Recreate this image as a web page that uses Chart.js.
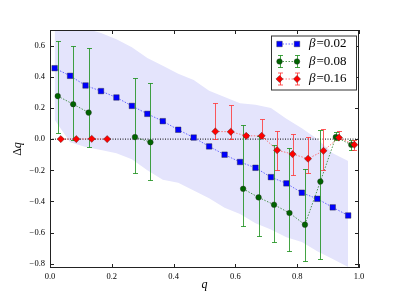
<!DOCTYPE html>
<html>
<head>
<meta charset="utf-8">
<script src="https://cdn.jsdelivr.net/npm/chart.js@4"></script>
<style>
  html, body { margin: 0; padding: 0; background: #fff; }
  #wrap { width: 399px; height: 299px; }
</style>
</head>
<body>
<div id="wrap"><canvas id="chart"></canvas></div>
<script>
// values
const betas = [0.02, 0.08, 0.16];

const qBlue = [0.015, 0.065, 0.115, 0.165, 0.215, 0.265, 0.315, 0.365, 0.415, 0.465,
               0.515, 0.565, 0.615, 0.665, 0.715, 0.765, 0.815, 0.865, 0.915, 0.965];
const blueVals = [0.455, 0.406, 0.344, 0.308, 0.267, 0.213, 0.162, 0.115, 0.060, 0.010,
                  -0.047, -0.100, -0.147, -0.184, -0.244, -0.284, -0.344, -0.383, -0.438, -0.490];
const bandLow = [0.124, -0.020, -0.050, -0.070, -0.090, -0.130, -0.200, -0.260, -0.280, -0.330,
                 -0.380, -0.440, -0.480, -0.540, -0.580, -0.630, -0.660, -0.720, -0.770, -0.820];
const bandHigh = [0.780, 0.740, 0.710, 0.680, 0.640, 0.590, 0.520, 0.470, 0.420, 0.380,
                  0.310, 0.270, 0.230, 0.220, 0.200, 0.130, 0.070, 0.000, -0.090, -0.140];

const qGreen = [0.025, 0.075, 0.125, 0.175, 0.225, 0.275, 0.325, 0.375, 0.425, 0.475,
                0.525, 0.575, 0.625, 0.675, 0.725, 0.775, 0.825, 0.875, 0.925, 0.975];
const greenVals = [0.276, 0.224, 0.170, null, null, 0.013, -0.020, null, null, null,
                   null, null, -0.319, -0.374, -0.421, -0.474, -0.549, -0.272, 0.013, -0.036];
const greenLow = [0.040, -0.005, -0.050, null, null, -0.218, -0.261, null, null, null,
                  null, null, -0.558, -0.622, -0.658, -0.716, -0.780, -0.767, -0.005, -0.068];
const greenHigh = [0.630, 0.600, 0.587, null, null, 0.389, 0.359, null, null, null,
                   null, null, 0.090, 0.017, -0.040, -0.060, -0.192, 0.060, 0.045, -0.005];

const qRed = [0.035, 0.085, 0.135, 0.185, 0.235, 0.285, 0.335, 0.385, 0.435, 0.485,
              0.535, 0.585, 0.635, 0.685, 0.735, 0.785, 0.835, 0.885, 0.935, 0.985];
const redVals = [0.000, 0.000, 0.002, 0.000, null, null, null, null, null, null,
                 0.049, 0.047, 0.021, 0.021, -0.071, -0.096, -0.126, -0.075, 0.010, -0.036];
const redLow = [0.000, 0.000, 0.000, 0.000, null, null, null, null, null, null,
                0.000, 0.000, 0.012, 0.010, -0.200, -0.229, -0.215, -0.197, 0.000, -0.068];
const redHigh = [0.000, 0.000, 0.004, 0.000, null, null, null, null, null, null,
                 0.230, 0.220, 0.030, 0.128, 0.050, 0.032, 0.013, 0.062, 0.050, -0.005];

const xTicks = [0.0, 0.2, 0.4, 0.6, 0.8, 1.0];
const yTicks = [-0.8, -0.6, -0.4, -0.2, 0.0, 0.2, 0.4, 0.6];

const SERIF = '"Liberation Serif", "DejaVu Serif", serif';

const toXY = (qs, vals) => qs.map((q, i) => ({ x: q, y: vals[i] }));
const fmtTick = v => (v < 0 ? '\u2212' : '') + Math.abs(v).toFixed(1);

// vertical error bars, drawn just before their own series
const errorBars = {
    id: 'errorBars',
    beforeDatasetDraw(chart, args) {
        const ds = chart.data.datasets[args.index];
        if (!ds.errLow) return;
        const { ctx, chartArea } = chart;
        const xs = chart.scales.x, ys = chart.scales.y;
        ctx.save();
        ctx.beginPath();
        ctx.rect(chartArea.left, chartArea.top, chartArea.width, chartArea.height);
        ctx.clip();
        ctx.strokeStyle = ds.errColor;
        ctx.lineWidth = 1;
        ds.data.forEach((p, i) => {
            if (p.y === null) return;
            const x = Math.round(xs.getPixelForValue(p.x)) + 0.5;
            const y0 = Math.round(ys.getPixelForValue(ds.errLow[i])) + 0.5;
            const y1 = Math.round(ys.getPixelForValue(ds.errHigh[i])) + 0.5;
            ctx.beginPath();
            ctx.moveTo(x, y0); ctx.lineTo(x, y1);
            ctx.moveTo(x - 2.5, y0); ctx.lineTo(x + 2.5, y0);
            ctx.moveTo(x - 2.5, y1); ctx.lineTo(x + 2.5, y1);
            ctx.stroke();
        });
        ctx.restore();
    }
};

// frame, inward ticks, y title and legend
const decorations = {
    id: 'decorations',
    afterDraw(chart) {
        const { ctx, chartArea: a } = chart;
        const xs = chart.scales.x, ys = chart.scales.y;
        ctx.save();
        ctx.strokeStyle = '#222';
        ctx.lineWidth = 1;
        ctx.strokeRect(a.left + 0.5, a.top + 0.5, a.width - 1, a.height - 1);
        ctx.beginPath();
        xs.ticks.forEach(t => {
            const x = Math.round(xs.getPixelForValue(t.value)) + 0.5;
            ctx.moveTo(x, a.bottom); ctx.lineTo(x, a.bottom - 4);
            ctx.moveTo(x, a.top); ctx.lineTo(x, a.top + 4);
        });
        ys.ticks.forEach(t => {
            const y = Math.round(ys.getPixelForValue(t.value)) + 0.5;
            ctx.moveTo(a.left, y); ctx.lineTo(a.left + 4, y);
            ctx.moveTo(a.right, y); ctx.lineTo(a.right - 4, y);
        });
        ctx.stroke();

        // y title "Δq"
        ctx.save();
        ctx.translate(18, (a.top + a.bottom) / 2);
        ctx.rotate(-Math.PI / 2);
        ctx.fillStyle = '#000';
        ctx.textBaseline = 'middle';
        ctx.font = '12px ' + SERIF;
        const w1 = ctx.measureText('\u0394').width;
        ctx.font = 'italic 12px ' + SERIF;
        const w2 = ctx.measureText('q').width;
        ctx.font = '12px ' + SERIF;
        ctx.fillText('\u0394', -(w1 + w2) / 2, 0);
        ctx.font = 'italic 12px ' + SERIF;
        ctx.fillText('q', -(w1 + w2) / 2 + w1, 0);
        ctx.restore();

        // legend
        const lx = a.right - 88, ly = a.top + 5.5, lw = 85, lh = 54;
        ctx.fillStyle = '#fff';
        ctx.fillRect(lx, ly, lw, lh);
        ctx.strokeStyle = '#333';
        ctx.strokeRect(lx + 0.5, ly + 0.5, lw, lh);
        const series = chart.data.datasets.filter(d => d.legendRow !== undefined);
        series.forEach(ds => {
            const y = ly + 8.5 + ds.legendRow * 17.5;
            const m1 = lx + 8.5, m2 = lx + 26;
            ctx.save();
            ctx.strokeStyle = ds.borderColor;
            ctx.setLineDash([1.5, 1.5]);
            ctx.beginPath(); ctx.moveTo(m1, y); ctx.lineTo(m2, y); ctx.stroke();
            ctx.restore();
            [m1, m2].forEach(mx => {
                if (ds.errColor) {
                    ctx.strokeStyle = ds.errColor;
                    const bx = Math.round(mx) + 0.5;
                    ctx.beginPath();
                    ctx.moveTo(bx, y - 6); ctx.lineTo(bx, y + 6);
                    ctx.moveTo(bx - 2.5, y - 6); ctx.lineTo(bx + 2.5, y - 6);
                    ctx.moveTo(bx - 2.5, y + 6); ctx.lineTo(bx + 2.5, y + 6);
                    ctx.stroke();
                }
                ctx.fillStyle = ds.pointBackgroundColor;
                ctx.strokeStyle = ds.pointBorderColor;
                ctx.lineWidth = ds.pointBorderWidth;
                Chart.helpers.drawPoint(ctx, {
                    pointStyle: ds.pointStyle, radius: ds.pointRadius,
                    rotation: 0, borderWidth: ds.pointBorderWidth
                }, mx, y);
                ctx.lineWidth = 1;
            });
            ctx.fillStyle = '#000';
            ctx.textBaseline = 'middle';
            ctx.font = 'italic 13px ' + SERIF;
            ctx.fillText('\u03B2', lx + 38, y);
            const bw = ctx.measureText('\u03B2').width;
            ctx.font = '13px ' + SERIF;
            ctx.fillText('=' + betas[ds.legendRow].toFixed(2), lx + 38 + bw + 1, y);
        });
        ctx.restore();
    }
};

const seriesStyle = (color, lineColor, style, radius) => ({
    borderColor: lineColor,
    borderWidth: 1,
    borderDash: [1.5, 1.5],
    pointStyle: style,
    pointRadius: radius,
    pointBackgroundColor: color,
    pointBorderColor: 'rgba(40,40,40,0.8)',
    pointBorderWidth: 0.5,
    spanGaps: false,
    fill: false
});

new Chart(document.getElementById('chart'), {
    type: 'line',
    data: {
        datasets: [
            { data: toXY(qBlue, bandLow), borderWidth: 0, pointRadius: 0, fill: false, order: 10 },
            { data: toXY(qBlue, bandHigh), borderWidth: 0, pointRadius: 0, fill: '-1',
              backgroundColor: 'rgb(228,228,252)', order: 10 },
            { data: [{ x: 0, y: 0 }, { x: 1, y: 0 }], borderColor: '#000', borderWidth: 1,
              borderDash: [1, 1.5], pointRadius: 0, fill: false, order: 5 },
            Object.assign({ data: toXY(qBlue, blueVals), order: 3, legendRow: 0 },
                seriesStyle('#0000ff', 'rgba(60,60,255,0.75)', 'rect', 3.9)),
            Object.assign({ data: toXY(qGreen, greenVals), order: 2, legendRow: 1,
                errLow: greenLow, errHigh: greenHigh, errColor: 'rgba(20,140,20,0.8)' },
                seriesStyle('#006400', 'rgba(40,130,40,0.8)', 'circle', 2.8)),
            Object.assign({ data: toXY(qRed, redVals), order: 1, legendRow: 2,
                errLow: redLow, errHigh: redHigh, errColor: 'rgba(255,50,50,0.8)' },
                seriesStyle('#ff0000', 'rgba(255,90,90,0.8)', 'rectRot', 3.6))
        ]
    },
    options: {
        responsive: true,
        maintainAspectRatio: false,
        animation: false,
        layout: { padding: { left: 0, right: 40, top: 30, bottom: 0 } },
        plugins: { legend: { display: false }, tooltip: { enabled: false } },
        scales: {
            x: {
                type: 'linear', min: 0, max: 1,
                afterBuildTicks: s => { s.ticks = xTicks.map(v => ({ value: v })); },
                afterFit: s => { s.height = 31; },
                grid: { display: false, drawTicks: false },
                border: { display: false },
                ticks: { padding: 4, color: '#000', font: { family: SERIF, size: 8.5 },
                         maxRotation: 0, callback: v => fmtTick(v) },
                title: { display: true, text: 'q', color: '#000',
                         font: { family: SERIF, size: 12, style: 'italic' },
                         padding: { top: 0, bottom: 7 } }
            },
            y: {
                type: 'linear', min: -0.827, max: 0.70,
                afterBuildTicks: s => { s.ticks = yTicks.map(v => ({ value: v })); },
                afterFit: s => { s.width = 50; },
                grid: { display: false, drawTicks: false },
                border: { display: false },
                ticks: { padding: 5, color: '#000', font: { family: SERIF, size: 8.5 },
                         callback: v => fmtTick(v) }
            }
        }
    },
    plugins: [errorBars, decorations]
});
</script>
</body>
</html>
